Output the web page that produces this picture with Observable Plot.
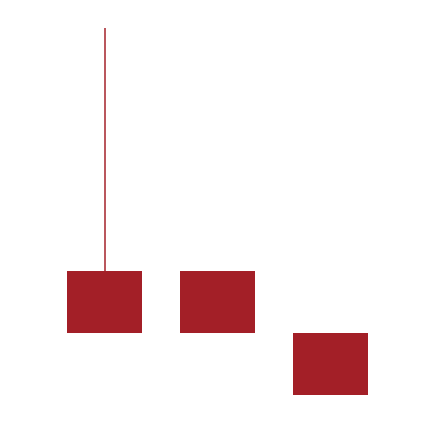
<!DOCTYPE html>
<html>
<head>
<meta charset="utf-8">
<script src="https://cdn.jsdelivr.net/npm/d3@7"></script>
<script src="https://cdn.jsdelivr.net/npm/@observablehq/plot@0.6"></script>
<style>
  html, body { margin: 0; padding: 0; background: #fff; }
</style>
</head>
<body>
<div id="chart"></div>
<script>
const categories = ["A", "B", "C"];
const lowValues = [1, 1, 0];
const highValues = [2, 2, 1];
const wickTop = [5.92, 2, 1];

const data = categories.map((c, i) => ({
  cat: c,
  lo: lowValues[i],
  hi: highValues[i],
  top: wickTop[i]
}));

const color = "#a31f27";

const chart = Plot.plot({
  width: 434,
  height: 422,
  marginTop: 28,
  marginBottom: 27,
  marginLeft: 29,
  marginRight: 28,
  x: { domain: categories, padding: 0.3363, round: false, axis: null },
  y: { domain: [0, 5.92], axis: null },
  marks: [
    Plot.ruleX(data.filter(d => d.top > d.hi), { x: "cat", y1: "hi", y2: "top", stroke: color, strokeWidth: 1.5 }),
    Plot.barY(data, { x: "cat", y1: "lo", y2: "hi", fill: color })
  ]
});
document.getElementById("chart").appendChild(chart);
</script>
</body>
</html>
